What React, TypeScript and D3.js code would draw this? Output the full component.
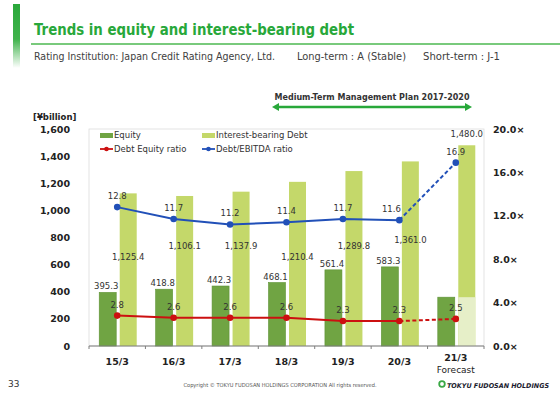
import { useEffect, useRef } from "react";
import * as d3 from "d3";

const categories = ["15/3", "16/3", "17/3", "18/3", "19/3", "20/3", "21/3"];
const equity = [395.3, 418.8, 442.3, 468.1, 561.4, 583.3, 360];
const equityLabels = ["395.3", "418.8", "442.3", "468.1", "561.4", "583.3", ""];
const debt = [1125.4, 1106.1, 1137.9, 1210.4, 1289.8, 1361.0, 1480.0];
const debtLabels = ["1,125.4", "1,106.1", "1,137.9", "1,210.4", "1,289.8", "1,361.0", "1,480.0"];
const deRatio = [2.8, 2.6, 2.6, 2.6, 2.3, 2.3, 2.5];
const ebitdaRatio = [12.8, 11.7, 11.2, 11.4, 11.7, 11.6, 16.9];
const leftTicks = [0, 200, 400, 600, 800, 1000, 1200, 1400, 1600];
const rightTicks = [0, 4, 8, 12, 16, 20];

// where the debt labels sit (left-axis units), set by hand in the source slide
const debtLabelAt = [655, 740, 740, 655, 740, 785, 1565];

const FONT = "'DejaVu Sans', Verdana, sans-serif";
const EQ = "#70a443";
const DEBT = "#c4d86a";
const PALE = "#e6efc8";
const RED = "#cc1010";
const BLUE = "#2150b8";
const GREEN = "#28a83a";

export default function App() {
  const svgRef = useRef<SVGSVGElement>(null);

  useEffect(() => {
    if (!svgRef.current) return;
    const svg = d3.select(svgRef.current);
    svg.selectAll("*").remove();

    // header
    const grad = svg.append("defs").append("linearGradient")
      .attr("id", "hbar").attr("x1", 0).attr("x2", 0).attr("y1", 0).attr("y2", 1);
    grad.append("stop").attr("offset", "0%").attr("stop-color", "#2aa83a");
    grad.append("stop").attr("offset", "55%").attr("stop-color", "#40b34c");
    grad.append("stop").attr("offset", "100%").attr("stop-color", "#ffffff");
    svg.append("rect").attr("x", 13).attr("y", 4).attr("width", 7).attr("height", 64).attr("fill", "url(#hbar)");

    svg.append("text").attr("x", 34).attr("y", 35).attr("fill", GREEN)
      .attr("font-family", FONT).attr("font-size", 16).attr("font-weight", "bold")
      .attr("textLength", 320).attr("lengthAdjust", "spacingAndGlyphs")
      .text("Trends in equity and interest-bearing debt");
    svg.append("line").attr("x1", 31).attr("x2", 560).attr("y1", 44).attr("y2", 44)
      .attr("stroke", "#4cb850").attr("stroke-width", 1.5);

    const sub = [
      { t: "Rating Institution: Japan Credit Rating Agency, Ltd.", x: 34, w: 241 },
      { t: "Long-term : A (Stable)", x: 297, w: 109 },
      { t: "Short-term : J-1", x: 423, w: 77 },
    ];
    sub.forEach((s) =>
      svg.append("text").attr("x", s.x).attr("y", 60).attr("fill", "#404040")
        .attr("font-family", FONT).attr("font-size", 10)
        .attr("textLength", s.w).attr("lengthAdjust", "spacingAndGlyphs").text(s.t)
    );

    // medium-term plan arrow
    svg.append("text").attr("x", 372).attr("y", 100).attr("text-anchor", "middle")
      .attr("font-family", FONT).attr("font-size", 8).attr("font-weight", "bold").attr("fill", "#333")
      .text("Medium-Term Management Plan 2017-2020");
    svg.append("line").attr("x1", 276).attr("x2", 468).attr("y1", 107).attr("y2", 107)
      .attr("stroke", GREEN).attr("stroke-width", 2.5);
    svg.append("path").attr("d", "M272,107 L279,103 L279,111 Z").attr("fill", GREEN);
    svg.append("path").attr("d", "M472,107 L465,103 L465,111 Z").attr("fill", GREEN);

    // chart
    const x0 = 89, x1 = 484, yTop = 129, yBot = 346;
    const x = d3.scaleBand().domain(categories).range([x0, x1]).padding(0);
    const yL = d3.scaleLinear().domain([0, 1600]).range([yBot, yTop]);
    const yR = d3.scaleLinear().domain([0, 20]).range([yBot, yTop]);
    const cx = (i: number) => (x(categories[i]) ?? 0) + x.bandwidth() / 2;

    svg.append("rect").attr("x", x0).attr("y", yTop).attr("width", x1 - x0).attr("height", yBot - yTop)
      .attr("fill", "none").attr("stroke", "#dcdcdc").attr("stroke-width", 0.8);

    // left axis
    svg.append("g").selectAll("text").data(leftTicks).join("text")
      .attr("x", 70).attr("y", (d) => yL(d) + 3.5).attr("text-anchor", "end")
      .attr("font-family", FONT).attr("font-size", 9.5).attr("font-weight", "bold").attr("fill", "#222")
      .text((d) => d3.format(",")(d));
    svg.append("text").attr("x", 33).attr("y", 120).attr("font-family", FONT).attr("font-size", 8.5)
      .attr("font-weight", "bold").attr("fill", "#222").text("[¥billion]");

    // right axis
    svg.append("g").selectAll("text").data(rightTicks).join("text")
      .attr("x", 493).attr("y", (d) => yR(d) + 3.5)
      .attr("font-family", FONT).attr("font-size", 9.5).attr("font-weight", "bold").attr("fill", "#222")
      .text((d) => d.toFixed(1) + "×");

    // bars
    const bars = svg.append("g");
    bars.selectAll(".eq").data(equity).join("rect")
      .attr("x", (_, i) => cx(i) - 18).attr("width", 17)
      .attr("y", (d) => yL(d)).attr("height", (d) => yBot - yL(d))
      .attr("fill", EQ).attr("stroke", "#5e9236").attr("stroke-width", 0.6);
    bars.selectAll(".debt").data(debt).join("rect")
      .attr("x", (_, i) => cx(i) + 2.5).attr("width", 17)
      .attr("y", (d) => yL(d)).attr("height", (d) => yBot - yL(d))
      .attr("fill", DEBT);
    // forecast: pale lower part of debt bar
    const last = categories.length - 1;
    bars.append("rect").attr("x", cx(last) + 2.5).attr("width", 17)
      .attr("y", yL(equity[last])).attr("height", yBot - yL(equity[last])).attr("fill", PALE);

    // bottom axis
    svg.append("line").attr("x1", x0).attr("x2", x1).attr("y1", yBot).attr("y2", yBot)
      .attr("stroke", "#7f7f7f").attr("stroke-width", 1.2);
    svg.append("g").selectAll("line").data(d3.range(categories.length + 1)).join("line")
      .attr("x1", (i) => x0 + i * x.bandwidth()).attr("x2", (i) => x0 + i * x.bandwidth())
      .attr("y1", yBot).attr("y2", yBot + 3).attr("stroke", "#7f7f7f");
    svg.append("g").selectAll("text").data(categories).join("text")
      .attr("x", (_, i) => cx(i)).attr("y", (_, i) => (i === last ? 361 : 364.5))
      .attr("text-anchor", "middle").attr("font-family", FONT).attr("font-size", 9.5)
      .attr("font-weight", "bold").attr("fill", "#222").text((d) => d);
    svg.append("text").attr("x", cx(last)).attr("y", 373).attr("text-anchor", "middle")
      .attr("font-family", FONT).attr("font-size", 9).attr("fill", "#222").text("Forecast");

    // lines
    const lineFor = () => d3.line<number>().x((_, i) => cx(i)).y((d) => yR(d));
    const drawSeries = (vals: number[], color: string) => {
      const g = svg.append("g");
      g.append("path").attr("d", lineFor()(vals.slice(0, last))).attr("fill", "none")
        .attr("stroke", color).attr("stroke-width", 2);
      g.append("path").attr("d", `M${cx(last - 1)},${yR(vals[last - 1])}L${cx(last)},${yR(vals[last])}`)
        .attr("fill", "none").attr("stroke", color).attr("stroke-width", 2).attr("stroke-dasharray", "4,2.5");
      g.selectAll("circle").data(vals).join("circle")
        .attr("cx", (_, i) => cx(i)).attr("cy", (d) => yR(d)).attr("r", 3.3).attr("fill", color);
    };
    drawSeries(deRatio, RED);
    drawSeries(ebitdaRatio, BLUE);

    // value labels
    const lab = svg.append("g").attr("font-family", FONT).attr("font-size", 8.5).attr("fill", "#333")
      .attr("text-anchor", "middle");
    lab.selectAll(".el").data(equityLabels).join("text")
      .attr("x", (_, i) => cx(i) - 11).attr("y", (_, i) => yL(equity[i]) - 3).text((d) => d);
    lab.selectAll(".dl").data(debtLabels).join("text")
      .attr("x", (_, i) => cx(i) + 11).attr("y", (_, i) => yL(debtLabelAt[i]) + 3).text((d) => d);
    lab.selectAll(".rl").data(deRatio).join("text")
      .attr("x", (_, i) => cx(i)).attr("y", (d) => yR(d) - 8).text((d) => d.toFixed(1));
    lab.selectAll(".bl").data(ebitdaRatio).join("text")
      .attr("x", (_, i) => cx(i) + (i === 5 ? -8 : 0)).attr("y", (d) => yR(d) - 8).text((d) => d.toFixed(1));

    // legend
    const lg = svg.append("g").attr("font-family", FONT).attr("font-size", 8.5).attr("fill", "#333");
    lg.append("rect").attr("x", 100).attr("y", 133).attr("width", 13).attr("height", 5).attr("fill", EQ);
    lg.append("text").attr("x", 114).attr("y", 138).text("Equity");
    lg.append("rect").attr("x", 202).attr("y", 133).attr("width", 13).attr("height", 5).attr("fill", DEBT);
    lg.append("text").attr("x", 216).attr("y", 138).text("Interest-bearing Debt");
    [[100, RED, "Debt Equity ratio"], [202, BLUE, "Debt/EBITDA ratio"]].forEach(([lx, c, t]) => {
      const xx = lx as number;
      lg.append("line").attr("x1", xx).attr("x2", xx + 13).attr("y1", 149).attr("y2", 149)
        .attr("stroke", c as string).attr("stroke-width", 1.8);
      lg.append("circle").attr("cx", xx + 6.5).attr("cy", 149).attr("r", 2.3).attr("fill", c as string);
      lg.append("text").attr("x", xx + 14).attr("y", 152).text(t as string);
    });

    // footer
    svg.append("text").attr("x", 8).attr("y", 387).attr("font-family", FONT).attr("font-size", 9)
      .attr("fill", "#333").text("33");
    svg.append("text").attr("x", 280).attr("y", 387).attr("text-anchor", "middle")
      .attr("font-family", FONT).attr("font-size", 5.5).attr("fill", "#555")
      .attr("textLength", 193).attr("lengthAdjust", "spacingAndGlyphs")
      .text("Copyright © TOKYU FUDOSAN HOLDINGS CORPORATION All rights reserved.");
    svg.append("circle").attr("cx", 442).attr("cy", 384).attr("r", 2.8).attr("fill", "none")
      .attr("stroke", "#3aa845").attr("stroke-width", 1.8);
    svg.append("text").attr("x", 447).attr("y", 387.5).attr("font-family", FONT).attr("font-size", 6.6)
      .attr("font-weight", "bold").attr("font-style", "italic").attr("fill", "#1a1a2e")
      .attr("textLength", 102).attr("lengthAdjust", "spacingAndGlyphs").text("TOKYU FUDOSAN HOLDINGS");
  }, []);

  return (
    <svg
      ref={svgRef}
      width={560}
      height={396}
      style={{ position: "absolute", left: 0, top: 0, background: "#fff" }}
    />
  );
}
